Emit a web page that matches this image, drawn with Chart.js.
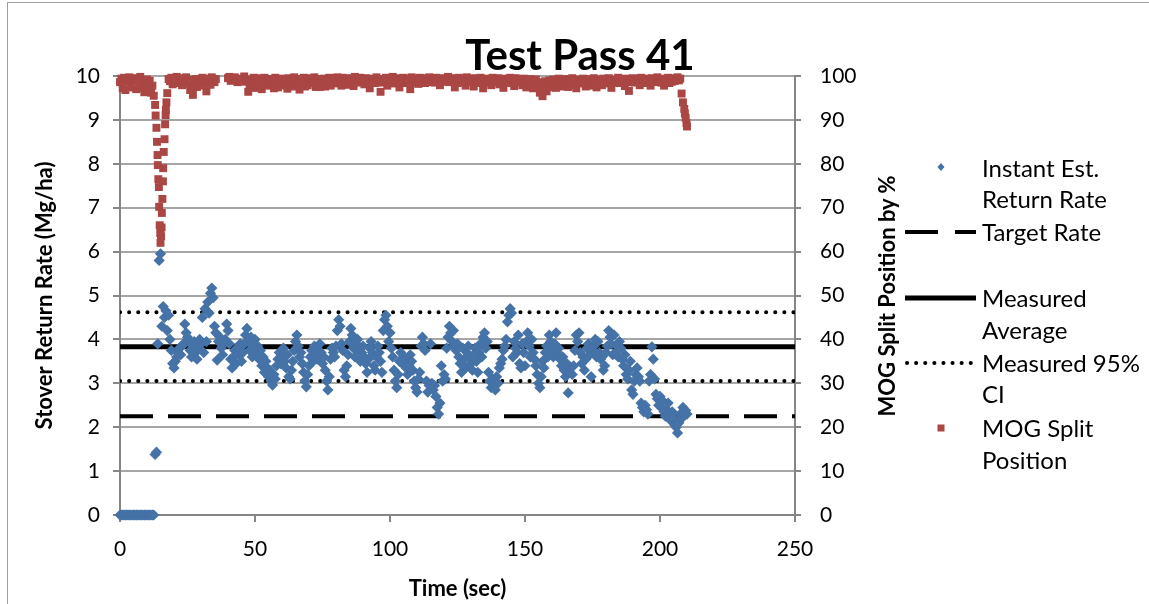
<!DOCTYPE html>
<html>
<head>
<meta charset="utf-8">
<script src="https://cdn.jsdelivr.net/npm/chart.js@4.4.1/dist/chart.umd.min.js"></script>
<style>
html, body { margin: 0; padding: 0; background: #fff; }
#wrap { position: relative; width: 1149px; height: 604px; overflow: hidden; font-family: Lato, "Open Sans", sans-serif; }
#frame { position: absolute; left: 7px; top: 2px; width: 1160px; height: 640px; border: 1px solid #a0a0a0; }
#c { position: absolute; left: 0; top: 0; }
#title { position: absolute; left: 380px; width: 400px; top: 33px; text-align: center; font-weight: bold; font-size: 42px; line-height: 42px; color: #000; }
#y1title { position: absolute; left: 737px; top: 282px; width: 300px; height: 28px; line-height: 28px; text-align: center; font-weight: bold; font-size: 22px; color: #000; transform: rotate(-90deg); white-space: nowrap; }
.lg { position: absolute; left: 982px; font-size: 24px; line-height: 30px; height: 30px; white-space: nowrap; color: #000; }
svg { position: absolute; left: 0; top: 0; }
</style>
</head>
<body>
<div id="wrap">
  <div id="frame"></div>
  <canvas id="c" width="1149" height="604"></canvas>
  <div id="title">Test Pass 41</div>
  <div id="y1title">MOG Split Position by %</div>
  <svg width="1149" height="604">
    <polygon points="941,163 944.5,167 941,171 937.5,167" fill="#4572a7"/>
    <line x1="905" y1="232" x2="976" y2="232" stroke="#000" stroke-width="4" stroke-dasharray="33 17"/>
    <line x1="905" y1="298" x2="976" y2="298" stroke="#000" stroke-width="5"/>
    <line x1="907" y1="363" x2="976" y2="363" stroke="#000" stroke-width="4" stroke-linecap="round" stroke-dasharray="0.1 9"/>
    <rect x="937.5" y="424.5" width="7" height="7" fill="#aa4643"/>
  </svg>
  <div class="lg" style="top:153px">Instant Est.</div>
  <div class="lg" style="top:184px">Return Rate</div>
  <div class="lg" style="top:217px">Target Rate</div>
  <div class="lg" style="top:283px">Measured</div>
  <div class="lg" style="top:315px">Average</div>
  <div class="lg" style="top:348px">Measured 95%</div>
  <div class="lg" style="top:379px">CI</div>
  <div class="lg" style="top:413px">MOG Split</div>
  <div class="lg" style="top:445px">Position</div>
</div>
<script>
// sample period of the logged data (sec)
const samplePeriod = 0.5;

// Instant Est. Return Rate (Mg/ha), one value per 0.5 s, t = 0 .. 210
const returnRate = [
  0, 0, 0, 0, 0, 0, 0, 0, 0, 0,
  0, 0, 0, 0, 0, 0, 0, 0, 0, 0,
  0, 0, 0, 0, 0, 0, 1.38, 1.43, 3.9, 5.8,
  5.95, 4.3, 4.75, 4.5, 4.65, 4.2, 4.55, 4.0, 3.75, 3.45,
  3.35, 3.5, 3.6, 3.7, 3.8, 3.65, 3.85, 3.9, 4.35, 4.15,
  4.05, 3.95, 3.75, 3.6, 3.85, 3.95, 3.7, 3.55, 3.8, 4.0,
  3.9, 4.5, 3.7, 4.7, 3.95, 4.85, 4.6, 5.05, 5.17, 4.95,
  4.3, 4.15, 3.53, 3.95, 4.05, 3.8, 3.65, 3.9, 4.0, 4.35,
  4.2, 3.9, 3.55, 3.35, 3.6, 3.75, 3.45, 3.8, 3.65, 3.9,
  3.5, 3.7, 3.9, 4.1, 4.25, 3.95, 3.75, 4.05, 3.6, 3.85,
  4.0, 3.7, 3.85, 3.55, 3.75, 3.4, 3.6, 3.25, 3.5, 3.35,
  3.15, 3.3, 3.05, 2.96, 3.2, 3.1, 3.4, 3.55, 3.7, 3.45,
  3.6, 3.8, 3.5, 3.35, 3.65, 3.15, 3.1, 3.3, 3.5, 3.75,
  3.95, 4.1, 3.85, 3.6, 3.7, 3.45, 3.25, 3.05, 2.92, 3.2,
  3.4, 3.6, 3.75, 3.5, 3.85, 3.65, 3.55, 3.75, 3.9, 3.7,
  3.45, 3.6, 3.3, 3.05, 2.85, 3.15, 3.55, 3.8, 3.7, 3.6,
  3.85, 4.2, 4.45, 4.3, 3.9, 3.75, 3.3, 3.15, 3.4, 3.65,
  3.95, 4.25, 4.1, 3.8, 3.6, 3.9, 4.0, 3.75, 3.5, 3.7,
  3.85, 3.6, 3.45, 3.25, 3.55, 3.8, 3.95, 3.7, 3.4, 3.3,
  3.6, 3.85, 3.7, 3.5, 3.25, 4.2, 4.45, 4.55, 4.3, 3.95,
  4.15, 3.8, 3.6, 3.3, 3.05, 2.9, 3.2, 3.5, 3.7, 3.45,
  3.6, 3.55, 3.35, 3.2, 3.4, 3.65, 3.5, 3.3, 3.05, 2.9,
  2.8, 3.1, 3.25, 3.85, 4.05, 3.9, 3.75, 3.05, 2.8, 2.95,
  3.9, 3.0, 2.85, 2.95, 2.7, 2.45, 2.3, 2.55, 3.4, 3.05,
  3.2, 3.1, 3.8, 4.05, 4.3, 4.15, 3.95, 4.2, 3.85, 3.75,
  3.9, 3.6, 3.45, 3.25, 3.8, 3.55, 3.35, 3.7, 3.85, 3.6,
  3.45, 3.3, 3.65, 3.8, 3.5, 3.25, 3.7, 3.9, 3.6, 4.05,
  4.15, 3.8, 3.95, 3.25, 3.05, 2.9, 3.1, 3.0, 2.85, 3.15,
  3.0, 3.35, 3.45, 3.55, 3.75, 3.85, 4.0, 4.4, 4.55, 4.7,
  4.6, 3.6, 3.95, 3.8, 3.7, 4.1, 3.45, 3.35, 3.9, 3.7,
  3.4, 3.95, 4.15, 3.85, 3.6, 4.0, 3.7, 3.55, 3.4, 3.2,
  3.0, 2.9, 3.15, 3.5, 3.35, 3.7, 3.85, 3.6, 4.1, 3.95,
  3.75, 3.6, 3.9, 4.15, 3.7, 3.8, 3.55, 3.4, 3.6, 3.3,
  3.15, 3.45, 2.78, 3.25, 3.35, 3.2, 3.4, 3.75, 4.1, 3.95,
  4.15, 3.7, 3.45, 3.6, 3.3, 3.55, 3.8, 3.9, 3.65, 3.15,
  3.75, 3.85, 4.0, 3.6, 3.95, 3.7, 3.55, 3.6, 3.3, 3.4,
  3.7, 3.85, 4.2, 4.05, 3.9, 3.65, 4.1, 3.7, 3.85, 3.6,
  3.95, 3.8, 3.55, 3.4, 3.65, 3.2, 3.1, 3.3, 3.5, 2.85,
  2.75, 3.05, 3.2, 3.35, 3.15, 3.05, 2.55, 2.45, 2.35, 2.5,
  2.4, 2.3, 3.05, 3.2, 3.83, 3.55, 3.1, 2.75, 2.65, 2.5,
  2.7, 2.45, 2.6, 2.35, 2.25, 2.4, 2.55, 2.3, 2.15, 2.35,
  2.2, 2.05, 2.0, 1.87, 2.1, 2.3, 2.2, 2.45, 2.3, 2.38,
  2.3
];

// MOG Split Position (%), one value per 0.5 s, t = 0 .. 210 (null = no reading)
const mogSplit = [
  98.6, 99.4, 97.2, 99.6, 96.8, 99.1, 98.8, 99.7, 97.4, 99.2,
  99.5, 98.9, 97.0, 99.3, 98.7, 99.8, 97.3, 99.0, 96.3, 98.5,
  99.2, 97.4, 98.9, 96.2, 97.8, 95.5, 93.4, 88.2, 79.7, 70.2,
  62.0, 68.8, 79.0, 85.6, 92.3, 96.1, 99.3, 98.8, 99.6, 98.1,
  99.4, 98.7, 99.8, 99.0, 98.4, 99.5, 97.9, 99.2, 98.6, 99.7,
  98.3, 99.1, 96.8, 98.8, 95.7, 97.5, 99.3, 97.5, 99.0, 97.8,
  98.9, 99.6, 98.2, 99.1, 96.5, 98.7, 99.4, 98.0, 99.7, 99.2,
  98.6, 99.3, null, null, null, null, null, null, null, null,
  99.5, 99.8, 98.9, null, 99.3, 99.7, null, 98.6, 99.1, null,
  99.4, 98.7, 99.9, null, 99.2, 96.4, 97.6, 99.0, 97.4, 99.6,
  97.3, 98.9, 99.5, 98.1, 99.2, 97.0, 98.8, 99.6, 97.8, 99.1,
  98.5, 99.3, 97.9, 99.0, 97.2, 99.6, 98.7, 97.4, 99.1, 98.6,
  99.4, 98.0, 99.2, 97.8, 97.1, 99.5, 98.3, 99.0, 97.6, 99.7,
  98.1, 99.3, 98.7, 96.9, 99.0, 98.5, 99.6, 97.6, 99.1, 97.9,
  99.5, 98.4, 99.2, 98.8, 99.7, 97.5, 99.3, 98.6, 97.5, 99.1,
  98.7, 99.4, 97.6, 99.0, 98.5, 99.6, 97.8, 99.2, 98.9, 99.5,
  98.3, 99.7, 98.8, 99.1, 97.8, 99.6, 98.9, 99.3, 98.0, 99.5,
  99.0, 98.6, 99.4, 97.7, 99.8, 98.7, 99.2, 98.5, 99.6, 98.9,
  99.3, 98.1, 99.5, 98.8, 99.0, 97.2, 99.4, 98.6, 99.2, 98.4,
  99.7, 98.9, 99.1, 96.4, 98.5, 99.3, 98.7, 99.6, 97.8, 99.0,
  99.4, 98.6, 99.8, 98.3, 99.1, 98.9, 99.5, 97.4, 99.2, 98.7,
  99.6, 98.4, 99.0, 98.8, 99.3, 97.0, 99.7, 98.5, 99.1, 98.9,
  99.4, 98.2, 99.6, 98.7, 99.0, 99.5, 98.4, 99.2, 98.8, 99.7,
  98.6, 99.3, 99.0, 98.5, 99.6, 98.9, 99.2, 97.9, 99.5, 98.8,
  99.1, 98.7, 99.4, 99.8, 98.6, 99.2, 98.9, 99.5, 97.4, 99.3,
  98.4, 99.6, 98.8, 99.1, 98.5, 99.4, 97.8, 99.7, 98.9, 99.0,
  98.6, 99.3, 97.6, 99.5, 98.7, 99.1, 98.4, 99.6, 98.8, 97.2,
  99.2, 98.5, 99.4, 98.9, 99.0, 97.9, 99.6, 98.7, 99.3, 98.6,
  99.5, 98.1, 99.2, 98.8, 97.3, 99.4, 98.5, 99.1, 98.9, 99.6,
  98.4, 99.3, 97.7, 99.5, 98.7, 99.2, 98.6, 99.0, 97.9, 99.4,
  98.8, 97.4, 99.1, 98.5, 99.3, 97.8, 97.2, 98.9, 99.2, 98.4,
  97.6, 96.2, 98.6, 95.4, 96.9, 98.8, 96.5, 98.3, 99.0, 97.4,
  98.5, 99.2, 98.1, 97.3, 98.9, 99.4, 98.3, 97.6, 99.1, 98.6,
  99.3, 98.4, 97.5, 99.0, 98.7, 99.5, 97.9, 98.9, 97.2, 99.2,
  98.6, 99.1, 98.3, 99.4, 98.8, 97.6, 99.0, 98.5, 99.3, 97.8,
  98.9, 99.5, 98.4, 97.4, 99.2, 98.7, 99.0, 97.9, 99.4, 98.6,
  99.1, 98.3, 99.5, 98.8, 97.3, 99.2, 98.5, 99.0, 98.9, 99.6,
  98.4, 99.3, 98.7, 99.1, 97.7, 99.4, 98.6, 96.6, 99.2, 98.8,
  99.5, 98.5, 99.0, 98.7, 99.3, 97.9, 99.6, 98.9, 99.1, 98.4,
  99.4, 98.8, 99.0, 97.8, 99.5, 98.7, 99.2, 98.6, 99.7, 98.9,
  99.3, 98.5, 99.0, 97.8, 99.4, 98.8, 99.6, 98.4, 99.1, 98.7,
  99.5, 98.9, 99.2, 99.7, 99.0, 99.4, 96.0, 94.0, 92.5, 90.5,
  88.5
];

// extra MOG readings logged during the fast swings
const mogDipTime  = [13.2, 13.7, 13.9, 14.2, 14.4, 14.7, 14.9, 15.2, 15.4, 15.7, 15.9, 16.2, 16.7, 16.9, 17.2, 209.2, 209.8];
const mogDipValue = [91.0, 85.0, 82.0, 76.5, 74.7, 66.0, 64.2, 63.5, 65.5, 72.0, 76.0, 82.7, 89.0, 91.1, 94.0, 91.5, 89.3];

// reference lines (Mg/ha)
const targetRate = 2.25;
const measuredAverage = 3.83;
const ci95Low = 3.05;
const ci95High = 4.62;

const timeRange = [0, 250];

function toPoints(values) {
  return values.map((v, i) => ({ x: i * samplePeriod, y: v }));
}
function hLine(y) {
  return [{ x: timeRange[0], y: y }, { x: timeRange[1], y: y }];
}

const gridGray = '#a6a6a6';
const axisGray = '#868686';
const tickFont = { family: 'Lato', size: 21 };
const titleFont = { family: 'Lato', size: 22, weight: 'bold' };

new Chart(document.getElementById('c'), {
  type: 'scatter',
  data: {
    datasets: [
      {
        label: 'MOG Split Position',
        data: toPoints(mogSplit),
        yAxisID: 'y1',
        pointStyle: 'rect',
        pointRadius: 5.6,
        backgroundColor: '#aa4643',
        borderColor: '#aa4643',
        borderWidth: 0,
        clip: false,
        order: 0
      },
      {
        label: 'MOG Split Position (extra)',
        data: mogDipTime.map((t, i) => ({ x: t, y: mogDipValue[i] })),
        yAxisID: 'y1',
        pointStyle: 'rect',
        pointRadius: 5.6,
        backgroundColor: '#aa4643',
        borderColor: '#aa4643',
        borderWidth: 0,
        clip: false,
        order: 0
      },
      {
        label: 'Instant Est. Return Rate',
        data: toPoints(returnRate),
        yAxisID: 'y',
        pointStyle: 'rectRot',
        pointRadius: 5.6,
        backgroundColor: '#4572a7',
        borderColor: '#4572a7',
        borderWidth: 0,
        clip: false,
        order: 1
      },
      {
        label: 'Target Rate',
        data: hLine(targetRate),
        yAxisID: 'y',
        showLine: true,
        pointRadius: 0,
        borderColor: '#000',
        borderWidth: 4,
        borderDash: [33, 15],
        order: 2
      },
      {
        label: 'Measured Average',
        data: hLine(measuredAverage),
        yAxisID: 'y',
        showLine: true,
        pointRadius: 0,
        borderColor: '#000',
        borderWidth: 5,
        order: 2
      },
      {
        label: 'Measured 95% CI',
        data: hLine(ci95High),
        yAxisID: 'y',
        showLine: true,
        pointRadius: 0,
        borderColor: '#000',
        borderWidth: 4,
        borderCapStyle: 'round',
        borderDash: [0.1, 9],
        order: 2
      },
      {
        label: 'Measured 95% CI low',
        data: hLine(ci95Low),
        yAxisID: 'y',
        showLine: true,
        pointRadius: 0,
        borderColor: '#000',
        borderWidth: 4,
        borderCapStyle: 'round',
        borderDash: [0.1, 9],
        order: 2
      }
    ]
  },
  options: {
    responsive: false,
    devicePixelRatio: 1,
    animation: false,
    layout: { padding: { left: 0, top: 76, right: 244, bottom: 0 } },
    plugins: {
      legend: { display: false },
      tooltip: { enabled: false }
    },
    scales: {
      x: {
        type: 'linear',
        min: timeRange[0],
        max: timeRange[1],
        ticks: { stepSize: 50, color: '#000', font: tickFont, padding: 15, maxRotation: 0 },
        grid: { drawOnChartArea: false, drawTicks: true, tickLength: 7, color: axisGray, lineWidth: 2 },
        border: { display: true, color: axisGray, width: 2 },
        title: { display: true, text: 'Time (sec)', color: '#000', font: titleFont, padding: { top: 0, bottom: 2 } },
        afterFit: (s) => { s.height = 89; }
      },
      y: {
        position: 'left',
        min: 0,
        max: 10,
        ticks: { stepSize: 1, color: '#000', font: tickFont, padding: 13 },
        grid: { color: gridGray, lineWidth: 2, tickLength: 7, tickColor: axisGray },
        border: { display: true, color: axisGray, width: 2 },
        title: { display: true, text: 'Stover Return Rate (Mg/ha)', color: '#000', font: titleFont, padding: { top: 32, bottom: 0 } },
        afterFit: (s) => { s.width = 120; }
      },
      y1: {
        position: 'right',
        min: 0,
        max: 100,
        ticks: { stepSize: 10, color: '#000', font: tickFont, padding: 19 },
        grid: { drawOnChartArea: false, drawTicks: true, tickLength: 6, color: axisGray, lineWidth: 2 },
        border: { display: true, color: axisGray, width: 2 },
        afterFit: (s) => { s.width = 110; }
      }
    }
  }
});
</script>
</body>
</html>
